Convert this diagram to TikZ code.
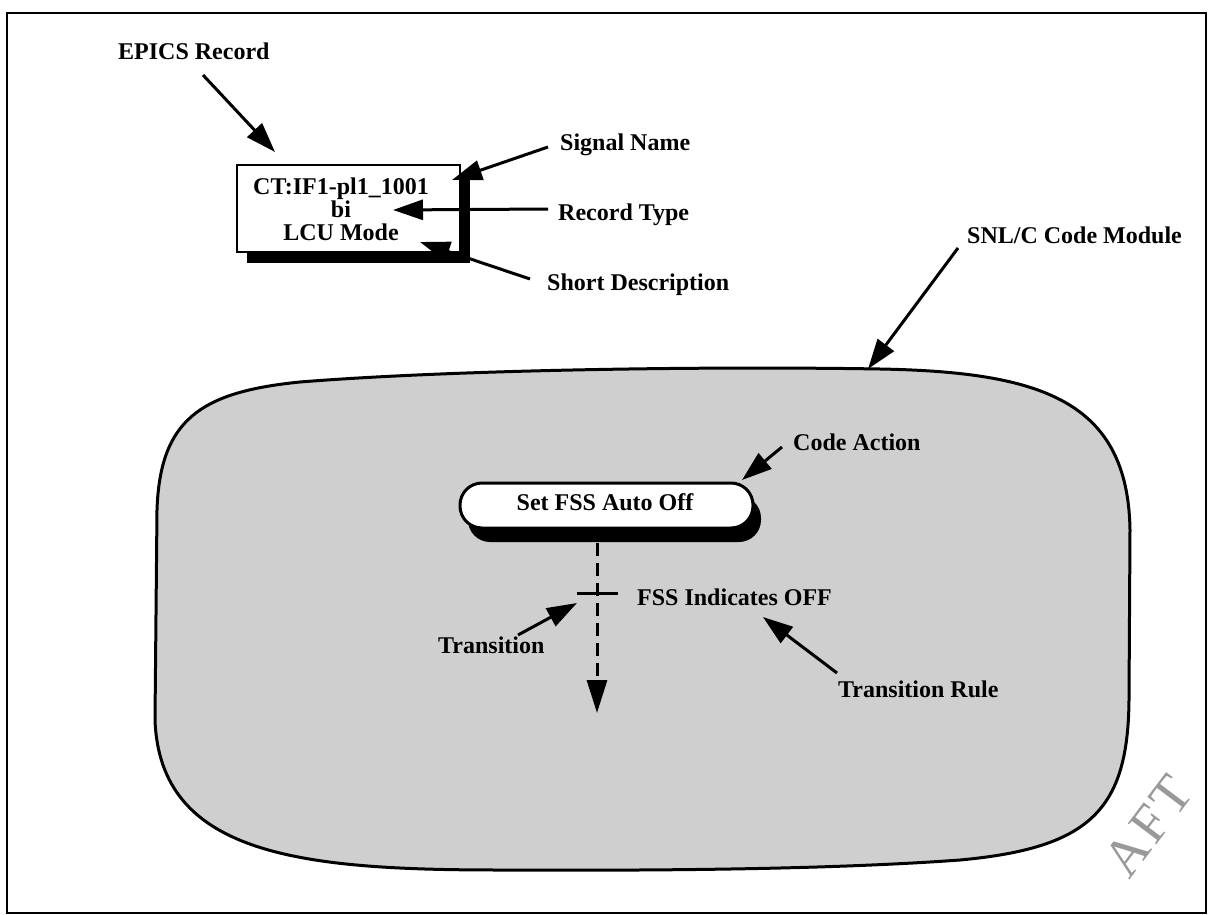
\documentclass[tikz,border=0pt]{standalone}
\usepackage{fontspec}
\setmainfont{Liberation Serif}
\usetikzlibrary{arrows.meta}
\begin{document}
\begin{tikzpicture}[x=1pt,y=-1pt,
  lbl/.style={font=\fontsize{24}{28}\selectfont\bfseries, inner sep=0pt, anchor=base west},
  boxtxt/.style={font=\fontsize{24}{28}\selectfont\bfseries, inner sep=0pt, anchor=base},
  arr/.style={line width=3pt, -{Triangle[length=30pt,width=20pt]}},
  blobstyle/.style={line width=3pt, fill=black!19},
]
\useasboundingbox (0,0) rectangle (1208,915);
\draw[line width=2.5pt] (7,13) rectangle (1206,913);

% SNL/C code module blob
\draw[blobstyle] (155,720) -- (157,510)
  .. controls (160,420) and (200,392) .. (300,382)
  .. controls (450,370) and (700,366) .. (880,369)
  .. controls (1040,372) and (1128,400) .. (1130,530)
  -- (1129,700)
  .. controls (1128,810) and (1090,848) .. (960,860)
  .. controls (850,868) and (700,871) .. (500,870)
  .. controls (300,870) and (160,855) .. (155,720) -- cycle;

% watermark
\node[rotate=53, font=\fontsize{54}{54}\selectfont, text=black!40, inner sep=0pt] (wm) at (1148,826) {A\kern4pt F\kern4pt T};

% EPICS record box
\fill (247,175) rectangle (470,263);
\node[draw, line width=2.5pt, fill=white, minimum width=223pt, minimum height=87pt, inner sep=0pt] (rec) at (348.5,208.5) {};
\node[boxtxt] (sig) at (341,194) {CT:IF1-pl1\_1001};
\node[boxtxt] (typ) at (341,218) {bi};
\node[boxtxt] (desc) at (341,240) {LCU Mode};

% labels
\node[lbl] (epics) at (118,60) {EPICS Record};
\node[lbl] (signame) at (560,151) {Signal Name};
\node[lbl] (rectype) at (558,220) {Record Type};
\node[lbl] (shortdesc) at (547,290) {Short Description};
\node[lbl] (snl) at (967,243) {SNL/C Code Module};
\node[lbl] (codeact) at (793,450) {Code Action};
\node[lbl] (rule) at (637,605) {FSS Indicates OFF};
\node[lbl] (trans) at (438,653) {Transition};
\node[lbl] (transrule) at (838,697) {Transition Rule};

% code action pill
\fill[rounded corners=22pt] (468,496) rectangle (761,542);
\node[draw, line width=3pt, fill=white, rounded corners=22pt, minimum width=293pt, minimum height=45pt, inner sep=0pt] (act) at (606.5,505.5) {};
\node[lbl, anchor=base] (acttxt) at (605,510) {Set FSS Auto Off};

% transition flow
\coordinate (dstart) at (597,543);
\coordinate (dend) at (597,713);
\draw[line width=3pt, dash pattern=on 13pt off 7pt, -{Triangle[length=33pt,width=20pt]}] (dstart) -- (dend);
\coordinate (barL) at (577,593);
\coordinate (barR) at (618,593);
\draw[line width=3pt] (barL) -- (barR);

% arrow coordinates
\coordinate (epicsT) at (203,75);   \coordinate (epicsH) at (275,152);
\coordinate (sigT) at (548,147);    \coordinate (sigH) at (452,180);
\coordinate (typT) at (548,209);    \coordinate (typH) at (393,210);
\coordinate (descT) at (530,279);   \coordinate (descH) at (420,242);
\coordinate (snlT) at (958,248);    \coordinate (snlH) at (868,369);
\coordinate (caT) at (782,447);     \coordinate (caH) at (742,480);
\coordinate (trT) at (518,635);     \coordinate (trH) at (577,603);
\coordinate (trrT) at (837,673);    \coordinate (trrH) at (763,617);

\draw[arr] (epicsT) -- (epicsH);
\draw[arr] (sigT) -- (sigH);
\draw[arr] (typT) -- (typH);
\draw[arr] (descT) -- (descH);
\draw[arr] (snlT) -- (snlH);
\draw[arr] (caT) -- (caH);
\draw[arr] (trT) -- (trH);
\draw[arr] (trrT) -- (trrH);
\end{tikzpicture}
\end{document}
